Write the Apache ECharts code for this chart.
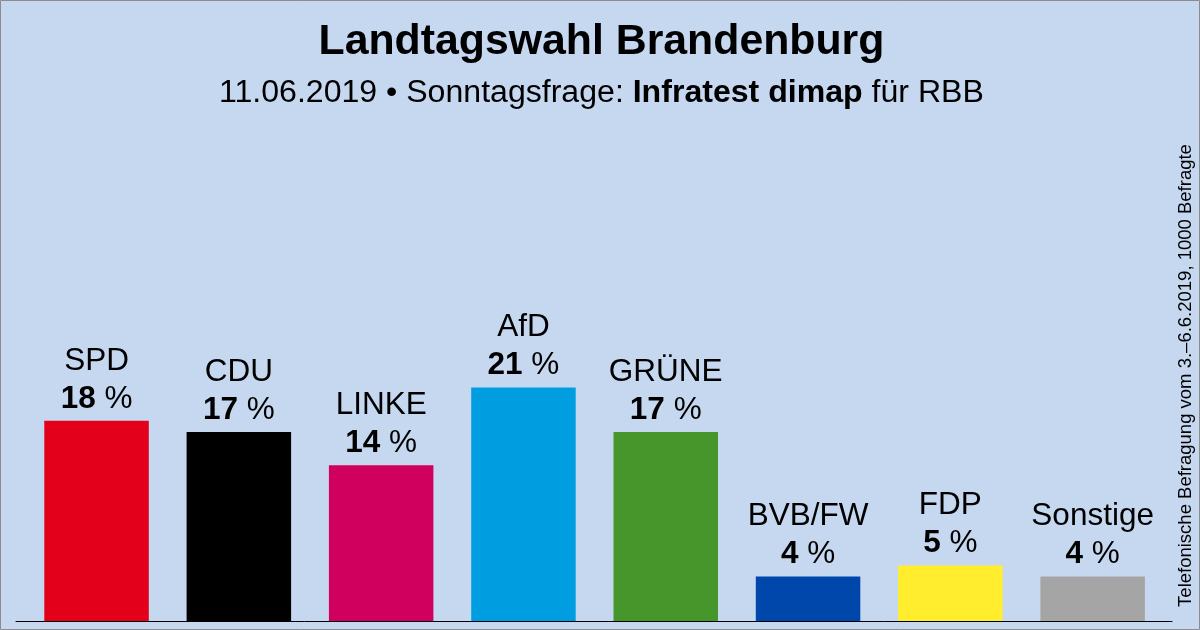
<!DOCTYPE html>
<html><head><meta charset="utf-8">
<style>html,body{margin:0;padding:0;background:#c6d8f0}#c{width:1200px;height:630px}</style>
<script src="https://cdn.jsdelivr.net/npm/echarts@6/dist/echarts.min.js"></script>
</head><body><div id="c"></div>
<script>
const categories = ["SPD","CDU","LINKE","AfD","GRÜNE","BVB/FW","FDP","Sonstige"];
const values = [18,17,14,21,17,4,5,4];
const colors = ["#e3001b","#000000","#d0005f","#009ee0","#46962b","#0047ab","#ffed2e","#a5a5a5"];
const FONT = '"Liberation Sans", Arial, sans-serif';
const chart = echarts.init(document.getElementById('c'), null, {renderer:'canvas'});
chart.setOption({
  animation:false,
  backgroundColor:'#c6d8f0',
  title:[{
    text:'Landtagswahl Brandenburg',
    left:313.5, top:16,
    textStyle:{fontFamily:FONT,fontSize:42.8,fontWeight:'bold',color:'#000'}
  },{
    text:'{n|11.06.2019 • Sonntagsfrage: }{b|Infratest dimap}{n| für RBB}',
    left:214, top:72,
    textStyle:{fontWeight:'normal',fontFamily:FONT,rich:{
      n:{fontFamily:FONT,fontSize:32.1,fontWeight:'normal',color:'#000'},
      b:{fontFamily:FONT,fontSize:32.1,fontWeight:'bold',color:'#000'}
    }}
  }],
  grid:[
    {left:25.4,width:1138.4,top:65,height:556},
    {left:16,width:1156,top:65,height:556.5}
  ],
  xAxis:[
    {type:'category',data:categories,gridIndex:0,axisLine:{show:false},axisTick:{show:false},axisLabel:{show:false}},
    {type:'value',gridIndex:1,min:0,max:1,axisLine:{show:true,onZero:false,lineStyle:{color:'#000',width:1}},axisTick:{show:false},axisLabel:{show:false},splitLine:{show:false}}
  ],
  yAxis:[
    {type:'value',gridIndex:0,min:0,max:50,show:false,splitLine:{show:false}},
    {type:'value',gridIndex:1,min:0,max:50,show:false,splitLine:{show:false}}
  ],
  series:[{
    type:'bar',xAxisIndex:0,yAxisIndex:0,barWidth:104.5,
    data:values.map((v,i)=>({value:v,itemStyle:{color:colors[i]}})),
    label:{show:true,position:'top',distance:3,
      formatter:p=>`{n|${p.name}}\n{v|${p.value}}{p| %}`,
      rich:{
        n:{fontFamily:FONT,fontSize:31.5,lineHeight:38,color:'#000',align:'center'},
        v:{fontFamily:FONT,fontSize:31.5,lineHeight:38,fontWeight:'bold',color:'#000'},
        p:{fontFamily:FONT,fontSize:31.5,lineHeight:38,color:'#000'}
      }
    }
  }],
  graphic:[
    {type:'rect',silent:true,z:100,shape:{x:0.5,y:0.5,width:1199,height:629},style:{fill:'transparent',stroke:'#8c8c8c',lineWidth:1}},
    {type:'text',silent:true,z:100,x:1186,y:375.5,rotation:Math.PI/2,
      style:{text:'Telefonische Befragung vom 3.–6.6.2019, 1000 Befragte',font:'18.5px '+FONT,fill:'#000',textAlign:'center',textVerticalAlign:'middle'}}
  ]
});
</script></body></html>
